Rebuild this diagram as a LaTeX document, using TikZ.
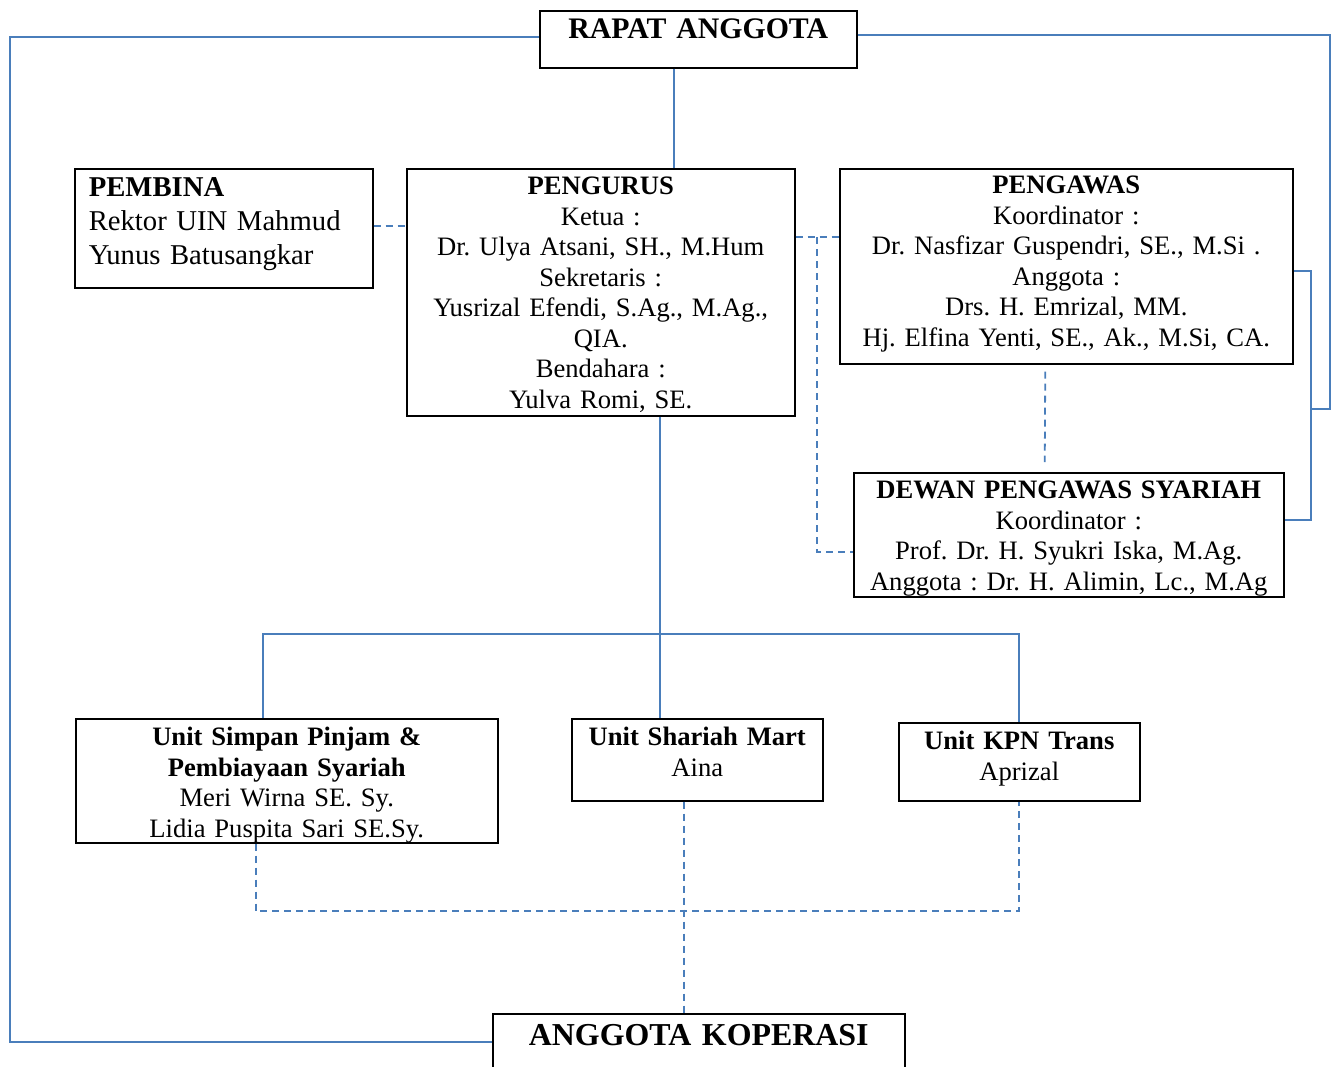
\documentclass[tikz,border=0pt]{standalone}
\usepackage{fontspec}
\setmainfont{Liberation Serif}
\usetikzlibrary{calc}
\definecolor{linkblue}{RGB}{74,126,187}
\frenchspacing

\begin{document}
\begin{tikzpicture}[
        x=1pt, y=-1pt,
        orgbox/.style={rectangle,draw,line width=1.5pt,anchor=north west,align=center,inner xsep=6pt,inner ysep=6pt,font=\fontsize{26.6pt}{30.5pt}\selectfont},
        link/.style={linkblue,line width=1.8pt},
        dlink/.style={link,dash pattern=on 7pt off 5pt},
        ]
        \useasboundingbox (0,0) rectangle (1333,1066);
        \clip (0,0) rectangle (1333,1066);

        \node[orgbox, text width=305pt, inner ysep=8pt, text height=20pt, text depth=21pt, font=\fontsize{29.8pt}{34pt}\selectfont\bfseries](rapat) at (539,10){RAPAT ANGGOTA};
        \node[orgbox, text width=270pt, inner xsep=14pt, text height=22pt, text depth=85pt, align=left, font=\fontsize{28.7pt}{34pt}\selectfont](pembina) at (74,168){\textbf{PEMBINA}\\Rektor UIN Mahmud\\Yunus Batusangkar};
        \node[orgbox, text width=376pt, text height=20pt, text depth=215pt](pengurus) at (406,168){\textbf{PENGURUS}\\Ketua :\\Dr. Ulya Atsani, SH., M.Hum\\Sekretaris :\\Yusrizal Efendi, S.Ag., M.Ag.,\\QIA.\\Bendahara :\\Yulva Romi, SE.};
        \node[orgbox, text width=441pt, text height=19pt, text depth=164pt](pengawas) at (839,168){\textbf{PENGAWAS}\\Koordinator :\\Dr. Nasfizar Guspendri, SE., M.Si .\\Anggota :\\Drs. H. Emrizal, MM.\\Hj. Elfina Yenti, SE., Ak., M.Si, CA.};
        \node[orgbox, text width=418pt, text height=20pt, text depth=92pt](dewan) at (853,472){\textbf{DEWAN PENGAWAS SYARIAH}\\Koordinator :\\Prof. Dr. H. Syukri Iska, M.Ag.\\Anggota : Dr. H. Alimin, Lc., M.Ag};
        \node[orgbox, text width=410pt, text height=21pt, text depth=91pt](simpan) at (75,718){\textbf{Unit Simpan Pinjam \&}\\\textbf{Pembiayaan Syariah}\\Meri Wirna SE. Sy.\\Lidia Puspita Sari SE.Sy.};
        \node[orgbox, text width=239pt, text height=21pt, text depth=49pt](shariah) at (571,718){\textbf{Unit Shariah Mart}\\Aina};
        \node[orgbox, text width=229pt, text height=21pt, text depth=45pt](kpn) at (898,722){\textbf{Unit KPN Trans}\\Aprizal};
        \node[orgbox, text width=400pt, inner ysep=4pt, text height=28pt, text depth=20pt, font=\fontsize{31.9pt}{36pt}\selectfont\bfseries](koperasi) at (492,1013){ANGGOTA KOPERASI};

        % solid lines
        \coordinate (lrail) at (10,0);
        \coordinate (rrail) at (1330,0);
        \coordinate (brmid) at (1311,409);
        \coordinate (trunk) at (674,0);
        \coordinate (stem) at (660,0);
        \coordinate (bar) at (0,634);
        \draw[link] ([yshift=2pt]rapat.west) -| (lrail |- koperasi.west) -- (koperasi.west);
        \draw[link] ([yshift=4pt]rapat.east) -| (rrail |- brmid) -- (brmid);
        \draw[link] ([yshift=-5pt]pengawas.east) -| (brmid) |- ([yshift=15pt]dewan.east);
        \draw[link] (rapat.south -| trunk) -- (pengurus.north -| trunk);
        \draw[link] (pengurus.south -| stem) -- (shariah.north -| stem);
        \draw[link] ([xshift=-24pt]simpan.north) |- (bar -| kpn.north) -- (kpn.north);

        % dashed lines
        \coordinate (tap) at ([yshift=-69pt]pengurus.north east);
        \coordinate (dl) at (817,0);
        \coordinate (dbar) at (0,911);
        \coordinate (drop) at ([xshift=-13pt]shariah.south);
        \draw[dlink] ([yshift=2pt]pembina.east) -- ([yshift=2pt]pengurus.west |- pembina.east);
        \draw[dlink] (tap) -- (tap -| pengawas.west);
        \draw[dlink] (tap -| dl) |- ([yshift=-17pt]dewan.west);
        \draw[dlink] ([xshift=-21pt,yshift=-7pt]pengawas.south) -- ([xshift=-24pt,yshift=10pt]dewan.north);
        \draw[dlink] ([xshift=-31pt]simpan.south) |- (dbar -| kpn.south) -- (kpn.south);
        \draw[dlink] (drop) -- (drop |- koperasi.north);
\end{tikzpicture}
\end{document}
